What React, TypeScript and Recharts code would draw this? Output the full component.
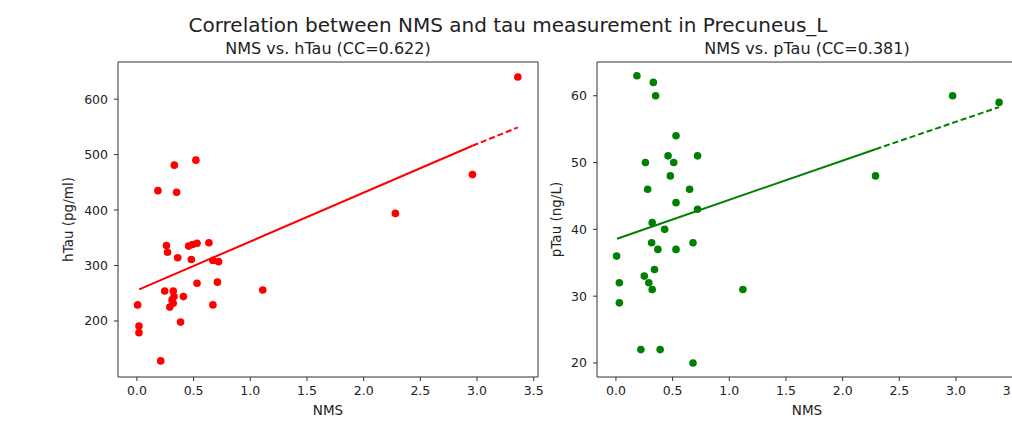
import React from 'react';
import { ScatterChart, Scatter, XAxis, YAxis, ReferenceArea } from 'recharts';

// shared x ticks
const nmsTicks = [0, 0.5, 1, 1.5, 2, 2.5, 3, 3.5];
const nmsDomain = [-0.167, 3.538];

// left panel: hTau
const hTauTicks = [200, 300, 400, 500, 600];
const hTauNms = [0.185, 0.33, 0.35, 0.52, 0.26, 0.456, 0.49, 0.53, 0.635, 0.27, 0.36, 0.48, 0.67, 0.72, 0.53, 0.71, 0.245, 0.32, 0.327, 0.31, 0.29, 0.32, 0.41, 0.006, 0.67, 0.385, 0.018, 0.018, 0.21, 1.11, 3.36, 2.96, 2.28];
const hTauValues = [435, 481, 432, 490, 336, 335, 338, 340, 341, 324, 314, 311, 309, 307, 268, 270, 254, 254, 244, 238, 225, 232, 244, 229, 229, 198, 191, 179, 128, 256, 640, 464, 394];
const hTauFitSolidNms = [0.02, 2.96];
const hTauFitSolidValues = [257, 516];
const hTauFitDashNms = [2.96, 3.36];
const hTauFitDashValues = [516, 549];

// right panel: pTau
const pTauTicks = [20, 30, 40, 50, 60];
const pTauNms = [0.185, 0.33, 0.35, 0.53, 0.26, 0.46, 0.51, 0.72, 0.48, 0.28, 0.65, 0.53, 0.72, 0.32, 0.43, 0.315, 0.37, 0.53, 0.68, 0.006, 0.25, 0.34, 0.29, 0.32, 0.03, 0.03, 1.12, 0.22, 0.39, 0.68, 2.97, 3.38, 2.29];
const pTauValues = [63, 62, 60, 54, 50, 51, 50, 51, 48, 46, 46, 44, 43, 41, 40, 38, 37, 37, 38, 36, 33, 34, 32, 31, 32, 29, 31, 22, 22, 20, 60, 59, 48];
const pTauFitSolidNms = [0.01, 2.29];
const pTauFitSolidValues = [38.6, 52.0];
const pTauFitDashNms = [2.29, 3.38];
const pTauFitDashValues = [52.0, 58.3];

const FONT = 'DejaVu Sans, sans-serif';

const zip = (xs: number[], ys: number[]) => xs.map((x, i) => ({ nms: x, value: ys[i] }));

function Panel({ left, width, rightMargin, points, solid, dashed, yDomain, yTicks, color }: any) {
  const dot = (p: any) => <circle cx={p.cx} cy={p.cy} r={3.8} fill={color} />;
  const noDot = () => <g />;
  const tickStyle = { fontSize: 12.5, fill: '#222', fontFamily: FONT };
  return (
    <div style={{ position: 'absolute', left, top: 0 }}>
      <ScatterChart width={width} height={422} margin={{ top: 62, right: rightMargin, bottom: 0, left: 0 }}>
        <XAxis
          type="number"
          dataKey="nms"
          domain={nmsDomain}
          ticks={nmsTicks}
          allowDataOverflow
          height={45}
          axisLine={false}
          tickSize={4}
          tickMargin={5}
          tickLine={{ stroke: '#333' }}
          tick={tickStyle}
          tickFormatter={(v: number) => v.toFixed(1)}
        />
        <YAxis
          type="number"
          dataKey="value"
          domain={yDomain}
          ticks={yTicks}
          allowDataOverflow
          width={118}
          axisLine={false}
          tickSize={4}
          tickMargin={6}
          tickLine={{ stroke: '#333' }}
          tick={tickStyle}
        />
        <ReferenceArea
          x1={nmsDomain[0]}
          x2={nmsDomain[1]}
          y1={yDomain[0]}
          y2={yDomain[1]}
          fill="none"
          fillOpacity={0}
          stroke="#333"
          strokeWidth={1}
          ifOverflow="visible"
        />
        <Scatter data={points} shape={dot} isAnimationActive={false} />
        <Scatter data={solid} shape={noDot} line={{ stroke: color, strokeWidth: 2 }} isAnimationActive={false} />
        <Scatter
          data={dashed}
          shape={noDot}
          line={{ stroke: color, strokeWidth: 2, strokeDasharray: '6 3' }}
          isAnimationActive={false}
        />
      </ScatterChart>
    </div>
  );
}

export default function App() {
  return (
    <div
      style={{
        position: 'absolute',
        left: 0,
        top: 0,
        width: 1012,
        height: 422,
        overflow: 'hidden',
        background: '#fff',
        fontFamily: FONT,
      }}
    >
      <Panel
        left={0}
        width={560}
        rightMargin={22}
        points={zip(hTauNms, hTauValues)}
        solid={zip(hTauFitSolidNms, hTauFitSolidValues)}
        dashed={zip(hTauFitDashNms, hTauFitDashValues)}
        yDomain={[99, 667]}
        yTicks={hTauTicks}
        color="#ff0000"
      />
      <Panel
        left={479}
        width={558}
        rightMargin={20}
        points={zip(pTauNms, pTauValues)}
        solid={zip(pTauFitSolidNms, pTauFitSolidValues)}
        dashed={zip(pTauFitDashNms, pTauFitDashValues)}
        yDomain={[17.9, 65.05]}
        yTicks={pTauTicks}
        color="#008000"
      />
      <svg
        width={1012}
        height={422}
        style={{ position: 'absolute', left: 0, top: 0, pointerEvents: 'none' }}
        fontFamily={FONT}
        fill="#222"
      >
        <text x={508} y={31.5} fontSize={20} textAnchor="middle">
          Correlation between NMS and tau measurement in Precuneus_L
        </text>
        <text x={328} y={54} fontSize={16} textAnchor="middle">
          NMS vs. hTau (CC=0.622)
        </text>
        <text x={807} y={54} fontSize={16} textAnchor="middle">
          NMS vs. pTau (CC=0.381)
        </text>
        <text x={328} y={415} fontSize={13.5} textAnchor="middle">
          NMS
        </text>
        <text x={807} y={415} fontSize={13.5} textAnchor="middle">
          NMS
        </text>
        <text x={73} y={219.5} fontSize={13.5} textAnchor="middle" transform="rotate(-90 73 219.5)">
          hTau (pg/ml)
        </text>
        <text x={561} y={219.5} fontSize={13.5} textAnchor="middle" transform="rotate(-90 561 219.5)">
          pTau (ng/L)
        </text>
      </svg>
    </div>
  );
}
